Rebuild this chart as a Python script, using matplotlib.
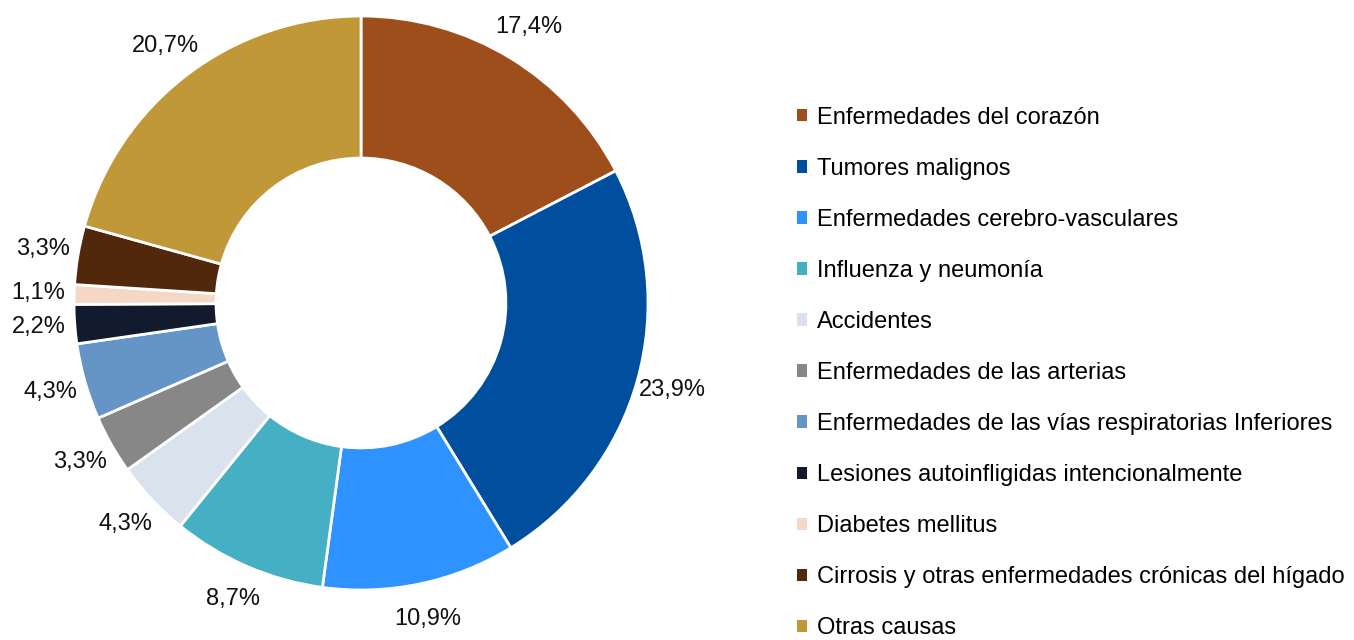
import matplotlib
matplotlib.use("Agg")
import matplotlib.pyplot as plt
from matplotlib.patches import Patch
import numpy as np

plt.rcParams['font.family'] = ['Liberation Sans', 'DejaVu Sans']

causas = [
    "Enfermedades del corazón",
    "Tumores malignos",
    "Enfermedades cerebro-vasculares",
    "Influenza y neumonía",
    "Accidentes",
    "Enfermedades de las arterias",
    "Enfermedades de las vías respiratorias Inferiores",
    "Lesiones autoinfligidas intencionalmente",
    "Diabetes mellitus",
    "Cirrosis y otras enfermedades crónicas del hígado",
    "Otras causas",
]
porcentajes = [17.4, 23.9, 10.9, 8.7, 4.3, 3.3, 4.3, 2.2, 1.1, 3.3, 20.7]
colores = ["#9E4E1A", "#004E9E", "#2E93FF", "#45AFC4", "#DAE3ED", "#878787",
           "#6495C6", "#121A2E", "#F5D7C6", "#52280C", "#C09838"]

fig = plt.figure(figsize=(13.54, 6.4), dpi=100)
cx, cy, r = 361, 303, 287
ax = fig.add_axes([(cx - r) / 1354, (640 - cy - r) / 640, 2 * r / 1354, 2 * r / 640])

wedges, _ = ax.pie(porcentajes, colors=colores, startangle=90, counterclock=False,
                   radius=1.0, wedgeprops=dict(width=0.495, edgecolor="white", linewidth=2))
ax.set_xlim(-1, 1)
ax.set_ylim(-1, 1)
ax.set_aspect("equal")
ax.axis("off")

# etiquetas fuera del anillo
for w, p in zip(wedges, porcentajes):
    ang = np.deg2rad((w.theta1 + w.theta2) / 2)
    d = 1.125
    ax.text(d * np.cos(ang), d * np.sin(ang), f"{p:.1f}%".replace(".", ","),
            ha="center", va="center", fontsize=17, color="#111111", clip_on=False)

handles = [Patch(facecolor=c, edgecolor="none") for c in colores]
fig.legend(handles, causas, loc="center left", bbox_to_anchor=(788 / 1354, 1 - 373 / 640),
           frameon=False, fontsize=17, handlelength=0.42, handleheight=0.42,
           handletextpad=0.4, labelspacing=1.23, borderaxespad=0)

fig.savefig("out.png", dpi=100)
